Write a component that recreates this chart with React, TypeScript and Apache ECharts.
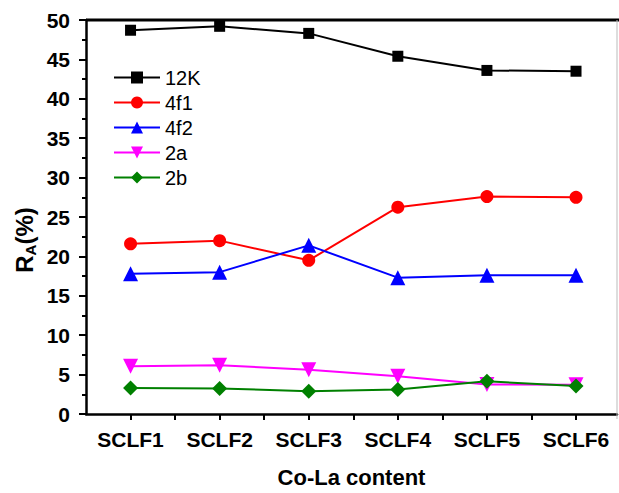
import React, { useEffect, useRef } from "react";
import * as echarts from "echarts";

const categories = ["SCLF1", "SCLF2", "SCLF3", "SCLF4", "SCLF5", "SCLF6"];
const yTicks = [0, 5, 10, 15, 20, 25, 30, 35, 40, 45, 50];
const s12K = [48.7, 49.2, 48.3, 45.4, 43.6, 43.5];
const s4f1 = [21.6, 22.0, 19.5, 26.25, 27.6, 27.5];
const s4f2 = [17.8, 18.0, 21.4, 17.3, 17.6, 17.6];
const s2a = [6.05, 6.2, 5.6, 4.8, 3.75, 3.7];
const s2b = [3.3, 3.25, 2.9, 3.1, 4.15, 3.55];

const seriesDefs = [
  { name: "12K", data: s12K, color: "#000000", symbol: "rect", size: 11, rotate: 0 },
  { name: "4f1", data: s4f1, color: "#ff0000", symbol: "circle", size: 13, rotate: 0 },
  { name: "4f2", data: s4f2, color: "#0000ff", symbol: "triangle", size: 15, rotate: 0 },
  { name: "2a", data: s2a, color: "#ff00ff", symbol: "triangle", size: 15, rotate: 180 },
  { name: "2b", data: s2b, color: "#008000", symbol: "diamond", size: 15, rotate: 0 },
];

const FONT = "Arial, 'Liberation Sans', sans-serif";

export default function App() {
  const ref = useRef<HTMLDivElement>(null);
  useEffect(() => {
    const chart = echarts.init(ref.current!, null, { renderer: "svg" });
    chart.setOption({
      animation: false,
      backgroundColor: "#ffffff",
      grid: { left: 86, right: 2, top: 20, bottom: 74, containLabel: false },
      legend: {
        orient: "vertical",
        left: 108,
        top: 62,
        itemWidth: 46,
        itemHeight: 15,
        itemGap: 4,
        textStyle: { fontFamily: FONT, fontSize: 20, color: "#000", lineHeight: 21 },
        data: seriesDefs.map((s) => s.name),
      },
      xAxis: {
        type: "value",
        min: 0.5,
        max: 6.46,
        interval: 0.5,
        splitLine: { show: false },
        axisLine: { lineStyle: { color: "#000", width: 2.5 } },
        axisTick: { inside: false, length: 6, lineStyle: { color: "#000", width: 2 } },
        axisLabel: {
          margin: 15,
          fontFamily: FONT,
          fontSize: 21,
          fontWeight: "bold",
          color: "#000",
          showMinLabel: false,
          showMaxLabel: false,
          formatter: (v: number) => {
            const i = Math.round(v);
            return Math.abs(v - i) < 1e-6 && i >= 1 && i <= categories.length ? categories[i - 1] : "";
          },
        },
        name: "Co-La content",
        nameLocation: "middle",
        nameGap: 52,
        nameTextStyle: { fontFamily: FONT, fontSize: 22, fontWeight: "bold", color: "#000" },
      },
      yAxis: {
        type: "value",
        min: yTicks[0],
        max: yTicks[yTicks.length - 1],
        interval: 5,
        splitLine: { show: false },
        axisLine: { show: true, lineStyle: { color: "#000", width: 2.5 } },
        axisTick: { show: true, inside: false, length: 7, lineStyle: { color: "#000", width: 2 } },
        minorTick: { show: true, splitNumber: 2, length: 4, lineStyle: { color: "#000", width: 2 } },
        axisLabel: {
          margin: 16,
          fontFamily: FONT,
          fontSize: 21,
          fontWeight: "bold",
          color: "#000",
        },
      },
      graphic: [
        {
          type: "line",
          shape: { x1: 86, y1: 20, x2: 619, y2: 20 },
          style: { stroke: "#000", lineWidth: 3 },
          z: 10,
        },
        {
          type: "line",
          shape: { x1: 617, y1: 20, x2: 617, y2: 419 },
          style: { stroke: "#bbbbbb", lineWidth: 1 },
          z: 10,
        },
        {
          type: "text",
          x: 24,
          y: 240,
          rotation: Math.PI / 2,
          style: {
            text: "{r|R}{s|A}{r|(%)}",
            align: "center",
            verticalAlign: "middle",
            fill: "#000",
            rich: {
              r: { fontFamily: FONT, fontSize: 24, fontWeight: "bold", fill: "#000", lineHeight: 28, verticalAlign: "middle" },
              s: { fontFamily: FONT, fontSize: 15, fontWeight: "bold", fill: "#000", lineHeight: 28, verticalAlign: "bottom", padding: [10, 0, 0, 0] },
            },
          },
        },
      ],
      series: seriesDefs.map((s) => ({
        name: s.name,
        type: "line",
        data: s.data.map((v, i) => [i + 1, v]),
        symbol: s.symbol,
        symbolSize: s.size,
        symbolRotate: s.rotate,
        showAllSymbol: true,
        color: s.color,
        lineStyle: { color: s.color, width: 2 },
        itemStyle: { color: s.color },
      })),
    });
    return () => chart.dispose();
  }, []);
  return (
    <div
      ref={ref}
      style={{ position: "fixed", left: 0, top: 0, width: 619, height: 493 }}
    />
  );
}
